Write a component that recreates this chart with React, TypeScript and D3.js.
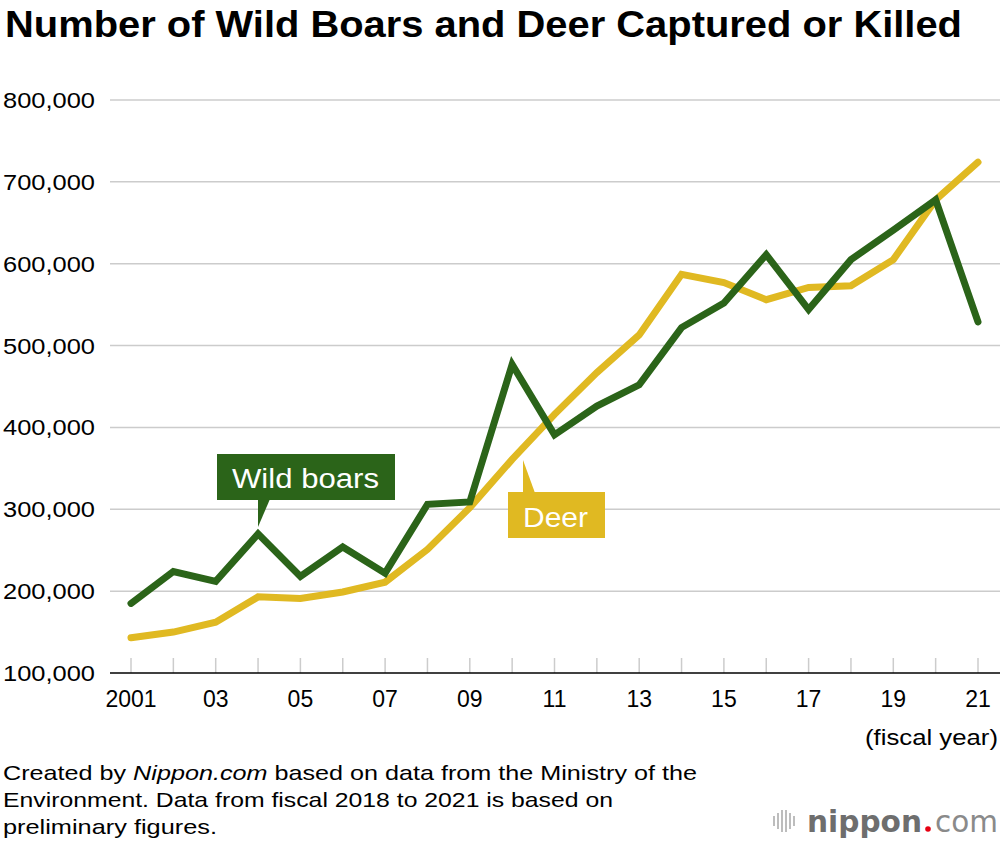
import React from "react";
import * as d3 from "d3";

const years: number[] = d3.range(2001, 2022);
const boars: number[] = [
  185000, 224000, 212000, 270000, 218000, 254000, 222000, 306000, 309000, 477000,
  391000, 426000, 452000, 522000, 552000, 611000, 544000, 605000, 641000, 678000, 529000,
];
const deer: number[] = [
  143000, 150000, 162000, 193000, 191000, 199000, 211000, 251000, 302000, 361000,
  416000, 467000, 513000, 587000, 577000, 556000, 571000, 573000, 605000, 678000, 724000,
];
const yTicks: number[] = [100000, 200000, 300000, 400000, 500000, 600000, 700000, 800000];
const xLabelYears: number[] = [2001, 2003, 2005, 2007, 2009, 2011, 2013, 2015, 2017, 2019, 2021];

const FONT = "'Liberation Sans', Arial, Helvetica, sans-serif";
const GREEN = "#2b6419";
const YELLOW = "#e0b922";

const App: React.FC = () => {
  const width = 1000;
  const height = 844;

  const x = d3.scaleLinear().domain([2001, 2021]).range([131, 978]);
  const y = d3.scaleLinear().domain([100000, 800000]).range([673, 100]);

  const fmt = d3.format(",");
  const xFmt = (yr: number) => (yr === 2001 ? "2001" : String(yr).slice(2));

  const line = d3
    .line<number>()
    .x((_, i) => x(years[i]))
    .y((d) => y(d));

  const stretch = { lengthAdjust: "spacingAndGlyphs" as const };

  return (
    <svg
      width={width}
      height={height}
      style={{ position: "absolute", left: 0, top: 0, background: "#fff" }}
      fontFamily={FONT}
    >
      <text x={5} y={37} fontSize={37} fontWeight="bold" fill="#000" textLength={957} {...stretch}>
        Number of Wild Boars and Deer Captured or Killed
      </text>

      {/* grid + y labels */}
      {yTicks.map((t) => (
        <g key={t}>
          {t > 100000 && (
            <line x1={110} x2={1000} y1={y(t)} y2={y(t)} stroke="#cccccc" strokeWidth={1.5} />
          )}
          <text x={3} y={y(t) + 8} fontSize={22.5} fill="#000" textLength={92} {...stretch}>
            {fmt(t)}
          </text>
        </g>
      ))}

      {/* x ticks */}
      {years.map((yr) => (
        <line key={yr} x1={x(yr)} x2={x(yr)} y1={y(100000) - 15} y2={y(100000)} stroke="#cccccc" strokeWidth={1.5} />
      ))}
      <line x1={110} x2={1000} y1={y(100000)} y2={y(100000)} stroke="#000" strokeWidth={1.5} />
      {xLabelYears.map((yr) => (
        <text key={yr} x={x(yr)} y={707} fontSize={23} textAnchor="middle" fill="#000">
          {xFmt(yr)}
        </text>
      ))}
      <text x={998} y={745} fontSize={22.5} textAnchor="end" fill="#000" textLength={133} {...stretch}>
        (fiscal year)
      </text>

      {/* series */}
      <path d={line(deer) || ""} fill="none" stroke={YELLOW} strokeWidth={7} strokeLinecap="round" strokeLinejoin="miter" />
      <path d={line(boars) || ""} fill="none" stroke={GREEN} strokeWidth={7} strokeLinecap="round" strokeLinejoin="miter" />

      {/* Wild boars label */}
      <rect x={217} y={454} width={178} height={46} fill={GREEN} />
      <path d="M258,499 L258,527 L270,499 Z" fill={GREEN} />
      <text x={232} y={488} fontSize={27} fill="#fff" textLength={147} {...stretch}>
        Wild boars
      </text>

      {/* Deer label */}
      <rect x={508} y={492} width={97} height={46} fill={YELLOW} />
      <path d="M523,493 L523,460 L535,493 Z" fill={YELLOW} />
      <text x={523} y={527} fontSize={27} fill="#fff" textLength={65} {...stretch}>
        Deer
      </text>

      {/* source */}
      <g fontSize={21} fill="#000">
        <text x={3} y={780} textLength={694} {...stretch}>
          Created by <tspan fontStyle="italic">Nippon.com</tspan> based on data from the Ministry of the
        </text>
        <text x={3} y={807} textLength={610} {...stretch}>
          Environment. Data from fiscal 2018 to 2021 is based on
        </text>
        <text x={3} y={834} textLength={214} {...stretch}>
          preliminary figures.
        </text>
      </g>

      {/* logo */}
      <g fontFamily="'DejaVu Sans', sans-serif" fontSize={31}>
        {[0, 4, 8, 12, 16, 20].map((dx, i) => {
          const h = [10, 16, 22, 22, 16, 10][i];
          return (
            <line
              key={dx}
              x1={774 + dx}
              x2={774 + dx}
              y1={821 - h / 2}
              y2={821 + h / 2}
              stroke="#bdbdbd"
              strokeWidth={2}
            />
          );
        })}
        <text x={807} y={832} fill="#6e6e6e" fontWeight="bold" textLength={115} {...stretch}>
          nippon
        </text>
        <circle cx={928} cy={829} r={2.8} fill="#e60012" />
        <text x={935} y={832} fill="#8a8a8a" textLength={63} {...stretch}>
          com
        </text>
      </g>
    </svg>
  );
};

export default App;
